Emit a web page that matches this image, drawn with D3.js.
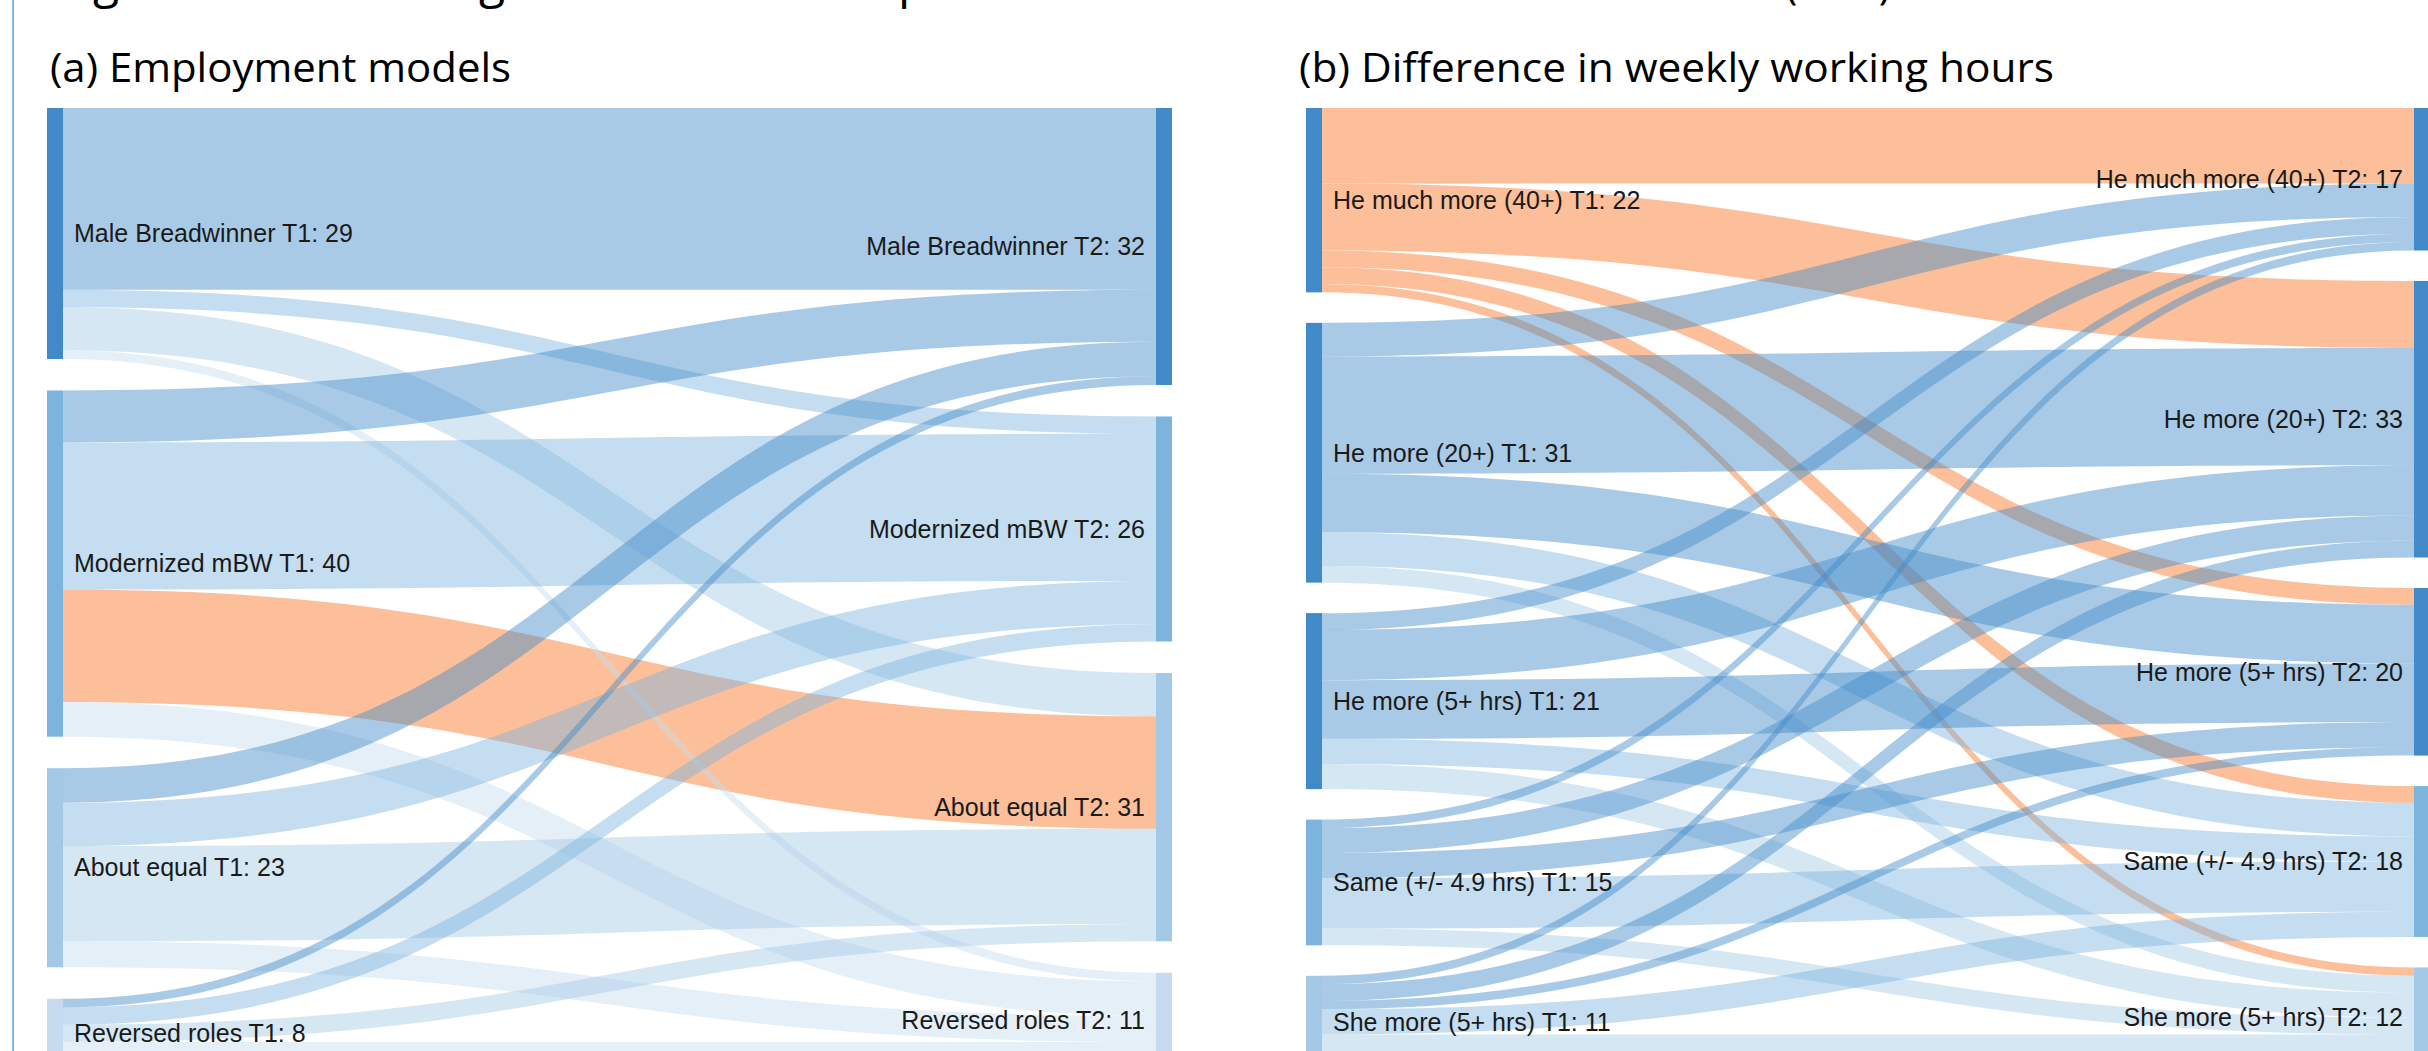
<!DOCTYPE html>
<html>
<head>
<meta charset="utf-8">
<script src="https://cdn.jsdelivr.net/npm/d3@7"></script>
<style>
  body { margin: 0; background: #fff; }
  svg { display: block; }
</style>
</head>
<body>
<div id="chart"></div>
<script>

// (a) employment models, shares in % at T1 and T2
var modelNames = ["Male Breadwinner", "Modernized mBW", "About equal", "Reversed roles"]
var modelT1 = [29, 40, 23, 8]
var modelT2 = [32, 26, 31, 11]
// rows: model at T1, columns: model at T2
var modelFlows = [
  [21, 2, 5, 1],
  [6, 17, 13, 4],
  [4, 5, 11, 3],
  [1, 2, 2, 3]
]

// (b) difference in weekly working hours
var hoursNames = ["He much more (40+)", "He more (20+)", "He more (5+ hrs)", "Same (+/- 4.9 hrs)", "She more (5+ hrs)"]
var hoursT1 = [22, 31, 21, 15, 11]
var hoursT2 = [17, 33, 20, 18, 12]
var hoursFlows = [
  [9, 8, 2, 2, 1],
  [4, 14, 7, 4, 2],
  [2, 6, 7, 3, 3],
  [1, 3, 3, 6, 2],
  [1, 2, 1, 3, 4]
]

var width = 2428
var height = 1051

var dark = "#4189c7", mid = "#7cb4dd", light = "#a3c9e6", pale = "#c6dbef"
var orange = "#fcbf99"

var svg = d3.select("#chart").append("svg")
    .attr("width", width)
    .attr("height", height)

svg.append("rect")
    .attr("width", width)
    .attr("height", height)
    .attr("fill", "#fff")

// frame line on the left
svg.append("line")
    .attr("x1", 13).attr("x2", 13)
    .attr("y1", 0).attr("y2", height)
    .attr("stroke", "#5b9bd5")
    .attr("stroke-width", 1.5)

// figure title, only its lower part is inside the picture
var titleFont = "'Open Sans', sans-serif"
function measure(str, size) {
  var t = svg.append("text").attr("font-family", titleFont).attr("font-size", size).text(str)
  var w = t.node().getComputedTextLength()
  t.remove()
  return w
}
var titleParts = [
  { text: "Figure 1: ", anchor: "Fi", at: 93 },
  { text: "Changes in the division of ", anchor: "Chan", at: 479 },
  { text: "paid work between T1 and T2 ", anchor: "", at: 898 },
  { text: "(in %)", anchor: "", at: 1785, len: 106 }
]
var title = svg.append("text")
    .attr("y", -2)
    .attr("font-family", titleFont)
    .attr("font-size", 48)
    .attr("fill", "#000")
titleParts.forEach(function(p) {
  var ts = title.append("tspan")
      .attr("x", p.at - (p.anchor ? measure(p.anchor, 48) : 0))
      .text(p.text)
  if (p.len) ts.attr("textLength", p.len).attr("lengthAdjust", "spacingAndGlyphs")
})

function sankey(opt) {

  var g = svg.append("g")

  g.append("text")
      .attr("x", opt.titleX)
      .attr("y", 82)
      .attr("font-family", titleFont)
      .attr("font-size", 40)
      .attr("textLength", opt.titleLen)
      .attr("lengthAdjust", "spacingAndGlyphs")
      .attr("fill", "#000")
      .text(opt.title)

  var n = opt.names.length
  var top = 108, bottom = 1068

  var k = d3.scaleLinear()
      .domain([0, d3.sum(opt.t1)])
      .range([0, bottom - top - opt.pad * (n - 1)])

  function column(values, x0, side) {
    var starts = [0].concat(Array.from(d3.cumsum(values))).slice(0, values.length)
    return values.map(function(v, i) {
      var y0 = top + k(starts[i]) + opt.pad * i
      return { name: opt.names[i], value: v, index: i, side: side,
               x0: x0, x1: x0 + 16, y0: y0, y1: y0 + k(v),
               color: opt.colors[i], offset: 0 }
    })
  }

  var left = column(opt.t1, opt.leftX, "T1")
  var right = column(opt.t2, opt.rightX, "T2")

  // links, stacked at the source by target order and at the target by source order
  var links = []
  opt.flows.forEach(function(row, i) {
    row.forEach(function(v, j) {
      links.push({ source: left[i], target: right[j], value: v })
    })
  })
  links.forEach(function(l) {
    l.sy0 = l.source.y0 + l.source.offset
    l.source.offset += k(l.value)
    l.sy1 = l.sy0 + k(l.value)
  })
  links.slice().sort(function(a, b) { return a.target.index - b.target.index || a.source.index - b.source.index })
    .forEach(function(l) {
      l.ty0 = l.target.y0 + l.target.offset
      l.target.offset += k(l.value)
      l.ty1 = l.ty0 + k(l.value)
    })

  links.forEach(function(l) { l.hot = opt.hot(l.source.index, l.target.index) })
  var ordered = links.filter(function(l) { return l.hot }).concat(links.filter(function(l) { return !l.hot }))

  function band(l) {
    var x0 = l.source.x1, x1 = l.target.x0, xm = (x0 + x1) / 2
    var p = d3.path()
    p.moveTo(x0, l.sy0)
    p.bezierCurveTo(xm, l.sy0, xm, l.ty0, x1, l.ty0)
    p.lineTo(x1, l.ty1)
    p.bezierCurveTo(xm, l.ty1, xm, l.sy1, x0, l.sy1)
    p.closePath()
    return p.toString()
  }

  g.append("g")
    .selectAll("path")
    .data(ordered)
    .join("path")
      .attr("d", band)
      .attr("fill", function(d) { return d.hot ? orange : d.target.color })
      .attr("fill-opacity", function(d) { return d.hot ? 1 : 0.45 })

  var nodes = left.concat(right)

  g.append("g")
    .selectAll("rect")
    .data(nodes)
    .join("rect")
      .attr("x", function(d) { return d.x0 })
      .attr("y", function(d) { return d.y0 })
      .attr("width", function(d) { return d.x1 - d.x0 })
      .attr("height", function(d) { return d.y1 - d.y0 })
      .attr("fill", function(d) { return d.color })

  g.append("g")
      .attr("font-family", "'Liberation Sans', Arial, sans-serif")
      .attr("font-size", 25)
      .attr("fill", "#1a1a1a")
    .selectAll("text")
    .data(nodes)
    .join("text")
      .attr("x", function(d) { return d.side == "T1" ? d.x1 + 11 : d.x0 - 11 })
      .attr("y", function(d) { return (d.y0 + d.y1) / 2 })
      .attr("dy", "0.35em")
      .attr("text-anchor", function(d) { return d.side == "T1" ? "start" : "end" })
      .text(function(d) { return d.name + " " + d.side + ": " + d.value })
}

sankey({
  title: "(a) Employment models",
  titleX: 50, titleLen: 461,
  names: modelNames, t1: modelT1, t2: modelT2, flows: modelFlows,
  colors: [dark, mid, light, pale],
  leftX: 47, rightX: 1156, pad: 31.5,
  hot: function(i, j) { return i == 1 && j == 2 }
})

sankey({
  title: "(b) Difference in weekly working hours",
  titleX: 1299, titleLen: 755,
  names: hoursNames, t1: hoursT1, t2: hoursT2, flows: hoursFlows,
  colors: [dark, dark, dark, mid, light],
  leftX: 1306, rightX: 2414, pad: 30.5,
  hot: function(i, j) { return i == 0 }
})

</script>
</body>
</html>
